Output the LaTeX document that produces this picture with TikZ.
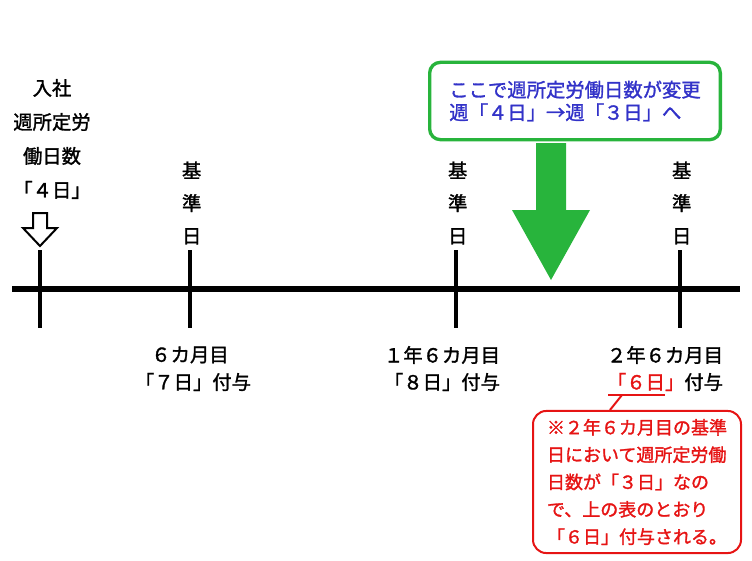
\documentclass[tikz,border=0pt]{standalone}
\usepackage{fontspec}
\setmainfont{Noto Sans CJK JP}[FakeBold=1.5]
\usetikzlibrary{positioning}
\definecolor{boxgreen}{RGB}{40,180,60}
\definecolor{textblue}{RGB}{50,50,200}
\definecolor{notered}{RGB}{230,20,20}
\tikzset{
  lbl/.style={font=\fontsize{14.5}{17}\selectfont, inner sep=0pt},
  tick/.style={line width=3pt},
  kijun/.style={lbl, align=center, text width=1.2em, font=\fontsize{14.5}{24.5}\selectfont},
}
\begin{document}
\begin{tikzpicture}[x=0.75pt,y=-0.75pt]
\useasboundingbox (0,0) rectangle (752,560);
% timeline
\draw[line width=4.5pt] (12,289) -- (740,289);
\foreach \x/\n in {40/t0,190/t1,456/t2,680/t3}{
  \coordinate (\n top) at (\x,250);
  \coordinate (\n bot) at (\x,328);
  \draw[tick] (\n top) -- (\n bot);
}
% start
\node[lbl, align=center, font=\fontsize{14.5}{25.5}\selectfont] (start) at (52,139) {入社\\週所定労\\働日数\\「４日」};
\coordinate (inarrow) at (40,246);
\draw[line width=1.5pt, fill=white] (inarrow) -- ++(-17,-18) -- ++(10,0) -- ++(0,-15)
  -- ++(14,0) -- ++(0,15) -- ++(10,0) -- cycle;
% base dates
\node[kijun] (k1) at (190,203) {基\\準\\日};
\node[kijun] (k2) at (456,203) {基\\準\\日};
\node[kijun] (k3) at (680,203) {基\\準\\日};
\node[lbl] (m1) at (190,355) {６カ月目};
\node[lbl] (g1) at (193,382) {「７日」付与};
\node[lbl] (m2) at (442,355) {１年６カ月目};
\node[lbl] (g2) at (442,382) {「８日」付与};
\node[lbl] (m3) at (665,355) {２年６カ月目};
\node[lbl] (g3) at (665,382) {\textcolor{notered}{「６日」}付与};
\coordinate (ulL) at (608,395);
\coordinate (ulR) at (665,395);
\draw[notered, line width=1.5pt] (ulL) -- (ulR);
% change box
\node[draw=boxgreen, line width=2.5pt, rounded corners=8pt, minimum width=218pt, minimum height=58pt,
      lbl, align=left, text=textblue, inner sep=6pt] (change) at (575,101)
      {ここで週所定労働日数が変更\\週「４日」→週「３日」へ};
\coordinate (gtip) at (551,280);
\fill[boxgreen] (gtip) -- (512,210) -- (536,210) -- (536,143) -- (566,143) -- (566,210) -- (590,210) -- cycle;
% note
\node[draw=notered, line width=1.5pt, rounded corners=10pt, text=notered, lbl,
      align=left, font=\fontsize{13.5}{20.5}\selectfont, inner sep=6pt,
      minimum width=156pt, minimum height=100pt] (note) at (637,482)
      {※２年６カ月目の基準\\日において週所定労働\\日数が「３日」なの\\で、上の表のとおり\\「６日」付与される。};
\draw[notered, line width=1.5pt] (622,395) -- (note.north -| 610,0);
\end{tikzpicture}
\end{document}
